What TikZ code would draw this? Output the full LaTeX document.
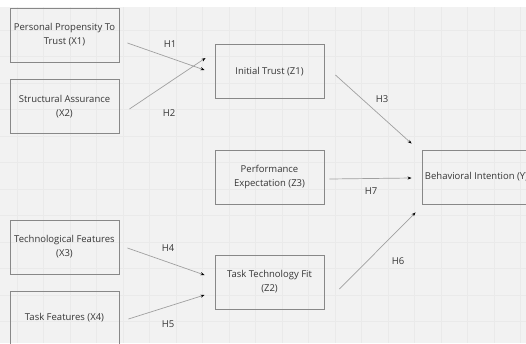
\documentclass[tikz,border=0pt]{standalone}
\usepackage{fontspec}
\setmainfont{Open Sans}
\usetikzlibrary{arrows.meta,calc}
\definecolor{canvas}{HTML}{F2F2F2}
\definecolor{gridline}{HTML}{EAEAEA}
\definecolor{boxline}{HTML}{888888}
\definecolor{inkgray}{HTML}{363636}
\definecolor{linkgray}{HTML}{A0A0A0}
\tikzset{
  construct/.style={draw=boxline,line width=0.9pt,minimum width=109pt,minimum height=54pt,
    align=center,text=inkgray,font=\fontsize{9.5}{14}\selectfont,inner sep=0pt},
  hyp/.style={draw=linkgray,line width=0.7pt,-{Stealth[black,length=4pt,width=3pt]}},
  hyplabel/.style={text=inkgray,font=\fontsize{9.5}{12}\selectfont,inner sep=0pt}
}

\begin{document}
\begin{tikzpicture}[x=1pt,y=-1pt]
        \useasboundingbox (0,0) rectangle (526,343);
        \clip (0,0) rectangle (526,343);
        \fill [white] (0,0) rectangle (526,7);
        \fill [canvas] (0,7) rectangle (526,343);
        % faint grid
        \foreach \gx in {0,...,19}
          \draw [gridline,line width=0.5pt] (17+26.5*\gx,7)--(17+26.5*\gx,343);
        \foreach \gy in {0,...,12}
          \draw [gridline,line width=0.5pt] (0,30+26.5*\gy)--(526,30+26.5*\gy);

        % constructs
        \node [construct] (x1) at (64.5,35) {Personal Propensity To\\Trust (X1)};
        \node [construct] (x2) at (64.5,106.5) {Structural Assurance\\(X2)};
        \node [construct] (x3) at (64.5,247) {Technological Features\\(X3)};
        \node [construct] (x4) at (64.5,318) {Task Features (X4)};
        \node [construct] (z1) at (269.5,71.5) {Initial Trust (Z1)};
        \node [construct] (z3) at (269.5,177) {Performance\\Expectation (Z3)};
        \node [construct] (z2) at (269.5,282) {Task Technology Fit\\(Z2)};
        \node [construct] (y) at (476.5,177) {Behavioral Intention (Y)};

        % hypotheses
        \draw [hyp] ([xshift=8pt,yshift=-8pt]x1.east)--([xshift=-10pt,yshift=1.5pt]z1.west);
        \draw [hyp] ([xshift=10pt,yshift=-2.5pt]x2.east)--([xshift=-9pt,yshift=13.5pt]z1.west);
        \draw [hyp] ([xshift=11pt,yshift=-3.5pt]z1.east)--([xshift=-10pt,yshift=6pt]y.north west);
        \draw [hyp] ([xshift=5pt,yshift=-2pt]z3.east)--([xshift=-10pt,yshift=-1pt]y.west);
        \draw [hyp] ([xshift=15pt,yshift=-7pt]z2.east)--([xshift=-6pt,yshift=-8pt]y.south west);
        \draw [hyp] ([xshift=8pt,yshift=-1pt]x3.east)--([xshift=-10pt,yshift=7pt]z2.west);
        \draw [hyp] ([xshift=9pt,yshift=-1pt]x4.east)--([xshift=-10pt,yshift=-13pt]z2.west);

        \node [hyplabel] (h1) at (170,44) {H1};
        \node [hyplabel] (h2) at (169,113) {H2};
        \node [hyplabel] (h3) at (382,99) {H3};
        \node [hyplabel] (h7) at (371,191) {H7};
        \node [hyplabel] (h6) at (398,261) {H6};
        \node [hyplabel] (h4) at (168,248) {H4};
        \node [hyplabel] (h5) at (168,324) {H5};
      \end{tikzpicture}
\end{document}
